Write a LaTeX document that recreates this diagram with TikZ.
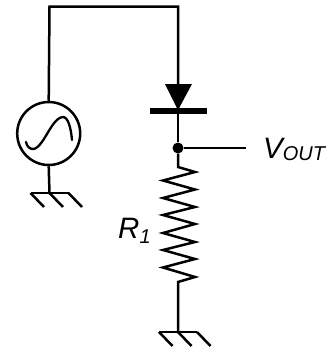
\documentclass[tikz,border=0pt]{standalone}
\usepackage{fontspec}
\setmainfont{Liberation Sans}
\tikzset{
  wire/.style={line width=2.5pt,line join=miter,line cap=butt},
  lbl/.style={inner sep=0pt}
}
\newcommand{\bigit}{\itshape\fontsize{29.5}{30}\selectfont}
\newcommand{\smallit}{\itshape\fontsize{20}{21}\selectfont}
\begin{document}
\begin{tikzpicture}[x=1pt,y=-1pt]
\useasboundingbox (0,0) rectangle (334,349);
\node[circle,draw,line width=2.5pt,minimum size=63pt,inner sep=0pt] (src) at (48.7,133.5) {};
\draw[line width=2.3pt,line cap=round] (26,142) .. controls (27,147) and (30,149) .. (33,149) .. controls (39,149) and (45,137) .. (50,129) .. controls (55,121) and (59,117) .. (63,117) .. controls (68,117) and (71,128) .. (72,140);
\coordinate (tr) at (178,6.5);
\coordinate (bar) at (178,111);
\node[circle,fill,inner sep=0pt,minimum size=11pt] (j) at (178,148) {};
\coordinate (out) at (246,148);
\coordinate (rt) at (178,167);
\coordinate (rb) at (178,282);
\coordinate (g1) at (49.5,193);
\coordinate (g2) at (178,332);
\draw[wire] (src.north) -- (49.5,6.5) -- (tr) -- (bar);
\fill (165,84) -- (192,84) -- (178,110) -- cycle;
\draw[line width=5.5pt] (149.5,111) -- (207,111);
\draw[wire] (bar) -- (j);
\draw[wire] (j) -- (out);
\draw[wire] (j) -- (rt) -- (195,172) -- (163,180.5) -- (195,189.5) -- (163,198) -- (195,207) -- (163,215) -- (195,224) -- (163,233) -- (195,242) -- (163,250) -- (195,259) -- (163,267.5) -- (195,277) -- (rb) -- (g2);
\draw[wire] (src.south) -- (g1);
\foreach \g in {g1,g2}{
  \path (\g) coordinate (gg);
  \draw[wire] ([xshift=-19pt]gg) -- ([xshift=19pt]gg);
  \draw[wire] ([xshift=-19pt]gg) -- ++(13.5,14);
  \draw[wire] (gg) -- ++(13.5,14);
  \draw[wire] ([xshift=19pt]gg) -- ++(13.5,14);
}
\node[lbl,anchor=base west] (vout) at (263,158) {\bigit V\lower2pt\hbox{\smallit OUT}};
\node[lbl,anchor=base west] (r1) at (118,238) {\bigit R\lower5pt\hbox{\smallit 1}};
\end{tikzpicture}
\end{document}
